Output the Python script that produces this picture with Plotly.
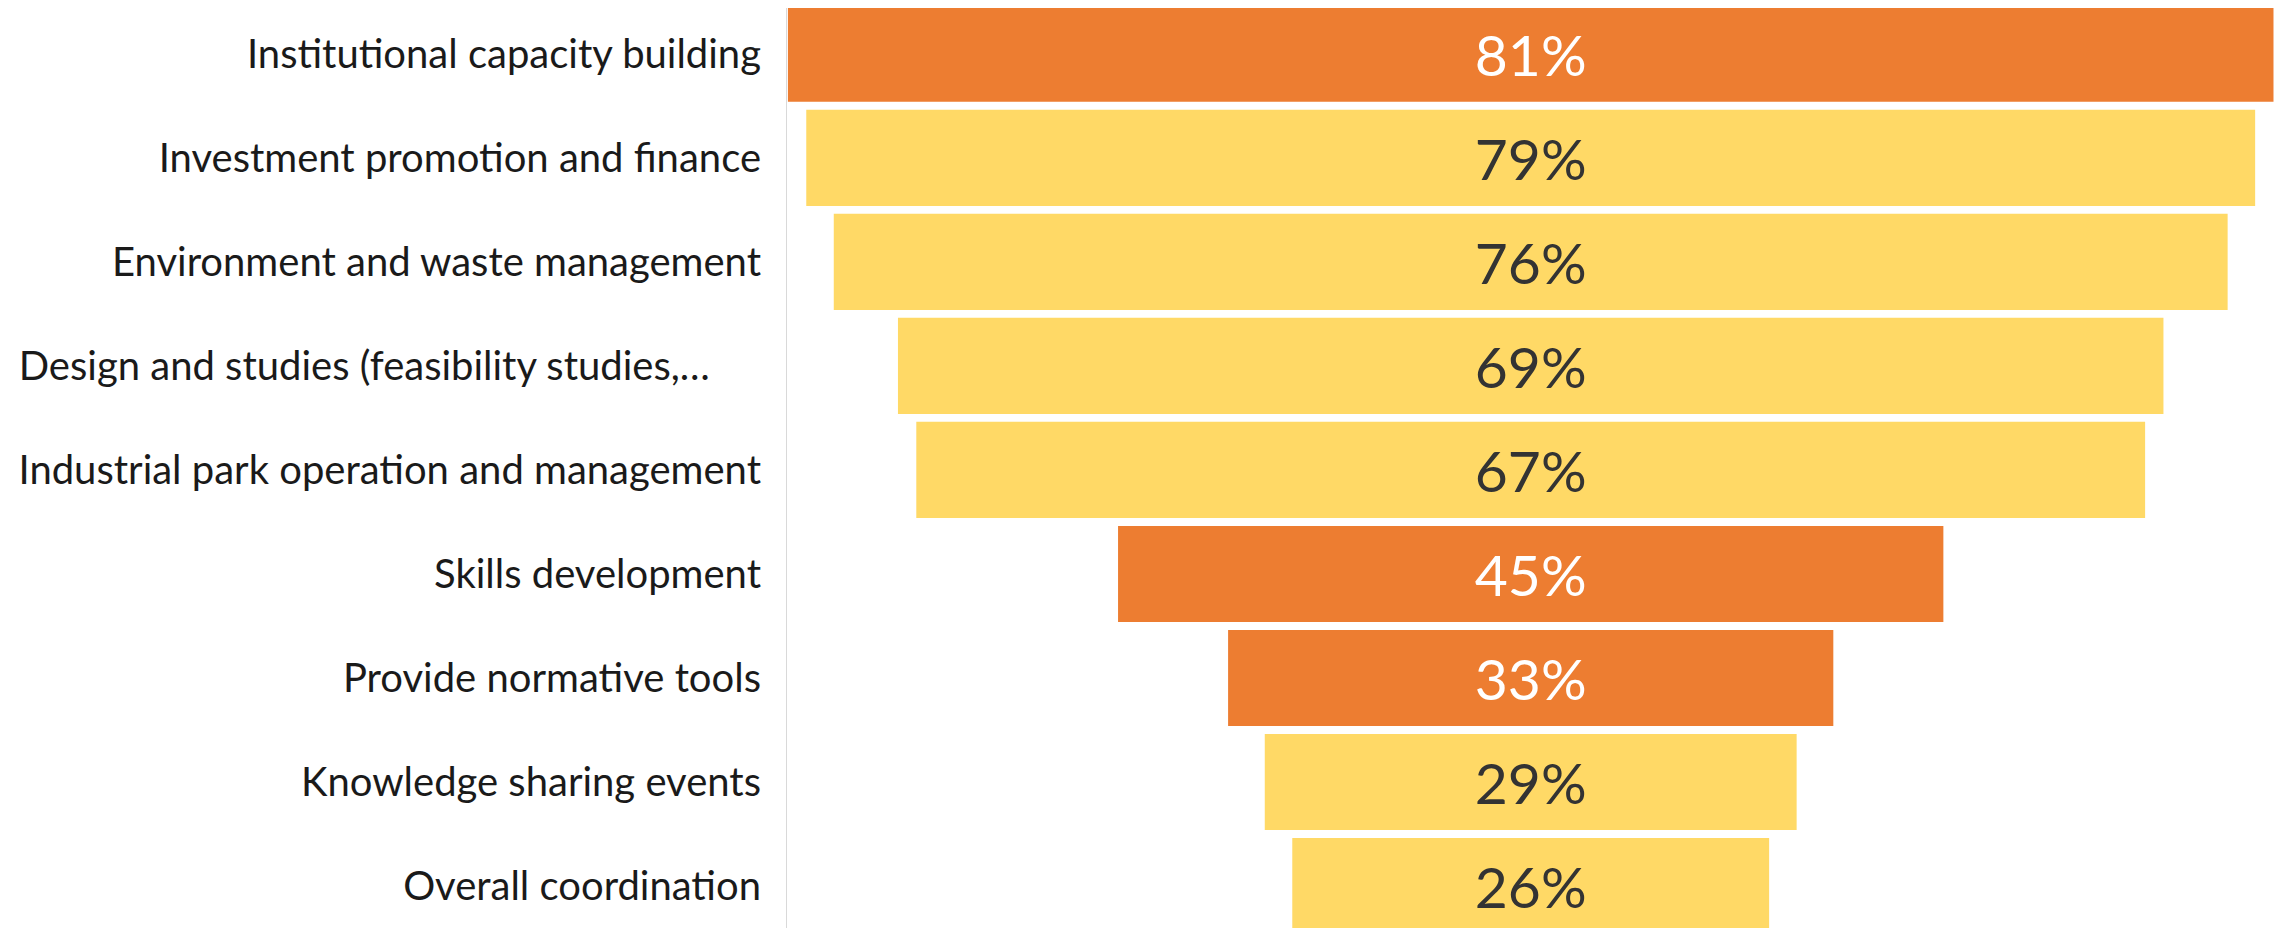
import plotly.graph_objects as go

labels = [
    "Institutional capacity building",
    "Investment promotion and finance",
    "Environment and waste management",
    "Design and studies (feasibility studies,…" + "\u00a0" * 5,
    "Industrial park operation and management",
    "Skills development",
    "Provide normative tools",
    "Knowledge sharing events",
    "Overall coordination",
]
values = [81, 79, 76, 69, 67, 45, 33, 29, 26]
highlight = [True, False, False, False, False, True, True, False, False]

ORANGE = "#ED7D31"
YELLOW = "#FFD966"

bar_colors = [ORANGE if h else YELLOW for h in highlight]
text_colors = ["white" if h else "#333333" for h in highlight]

fig = go.Figure(go.Funnel(
    y=labels,
    x=values,
    text=[f"{v}%" for v in values],
    textinfo="text",
    textposition="inside",
    insidetextanchor="middle",
    constraintext="none",
    textfont=dict(family="Lato", size=57, color=text_colors),
    marker=dict(color=bar_colors, line=dict(width=0)),
    connector=dict(visible=False),
    hoverinfo="y+x",
))

fig.update_layout(
    width=2282,
    height=928,
    margin=dict(l=779, r=0, t=0, b=0),
    paper_bgcolor="white",
    plot_bgcolor="white",
    funnelgap=0.076,
    showlegend=False,
    font=dict(family="Lato", color="#1a1a1a"),
)
fig.update_xaxes(range=[-40.55, 41.4], visible=False, showgrid=False,
                 zeroline=False, automargin=False)
fig.update_yaxes(
    range=[8.48, -0.44],
    automargin=False,
    showline=True,
    linecolor="#d9d9d9",
    linewidth=1,
    showgrid=False,
    ticks="",
    ticklabelstandoff=17,
    tickfont=dict(family="Lato", size=40, color="#1a1a1a"),
)

fig.write_html("out.html")
